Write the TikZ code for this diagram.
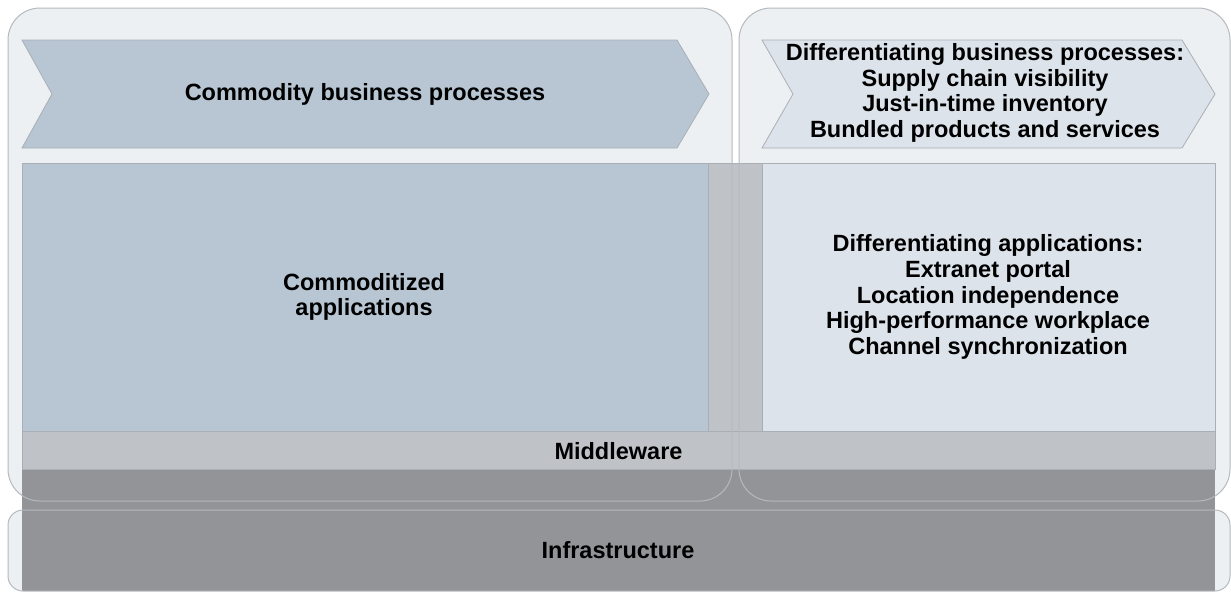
\documentclass[tikz,border=0pt]{standalone}
\usepackage{fontspec}
\setmainfont{Liberation Sans}
\definecolor{panel}{HTML}{EDF0F3}
\definecolor{framegray}{HTML}{B4BABF}
\definecolor{edgegray}{HTML}{A9AFB4}
\definecolor{commodity}{HTML}{B8C6D4}
\definecolor{diffblue}{HTML}{DCE3EB}
\definecolor{midgray}{HTML}{BFC3C7}
\definecolor{infragray}{HTML}{939497}
\begin{document}
\begin{tikzpicture}[x=1pt,y=-1pt,
  lbl/.style={font=\fontsize{23.5}{25.7}\selectfont\bfseries, align=center, inner sep=0pt, text=black},
  framebox/.style={draw=framegray, line width=1pt},
  band/.style={draw=edgegray, line width=0.8pt}]
\useasboundingbox[fill=white] (0,0) rectangle (1231,606);

% panel backgrounds
\fill[panel, rounded corners=32pt] (8,8) rectangle (732,501);
\fill[panel, rounded corners=32pt] (739,8) rectangle (1230,501);
\fill[panel, rounded corners=15pt] (8,510) rectangle (1230,591);

% infrastructure block
\fill[infragray] (22,469) rectangle (1215,591);

% middleware band
\filldraw[band, fill=midgray] (22,431) rectangle (1215,469);

% application layer
\filldraw[band, fill=commodity] (22,163) rectangle (708,431);
\filldraw[band, fill=midgray] (708,163) rectangle (762,431);
\filldraw[band, fill=diffblue] (762,163) rectangle (1215,431);

% process chevrons
\filldraw[band, fill=commodity] (22,40) -- (677,40) -- (709,94) -- (677,148) -- (22,148) -- (52,94) -- cycle;
\filldraw[band, fill=diffblue] (762,40) -- (1182,40) -- (1215,94) -- (1182,148) -- (762,148) -- (793,94) -- cycle;

% panel outlines on top
\draw[framebox, rounded corners=32pt] (8,8) rectangle (732,501);
\draw[framebox, rounded corners=32pt] (739,8) rectangle (1230,501);
\draw[framebox, rounded corners=15pt] (8,510) rectangle (1230,591);

% labels
\node[lbl] (cbp) at (365,94) {Commodity business processes};
\node[lbl] (dbp) at (985,93) {Differentiating business processes:\\Supply chain visibility\\Just-in-time inventory\\Bundled products and services};
\node[lbl] (capps) at (364,297) {Commoditized\\applications};
\node[lbl] (dapps) at (988,297) {Differentiating applications:\\Extranet portal\\Location independence\\High-performance workplace\\Channel synchronization};
\node[lbl] (mw) at (618.5,451) {Middleware};
\node[lbl] (infra) at (618,550) {Infrastructure};
\end{tikzpicture}
\end{document}
